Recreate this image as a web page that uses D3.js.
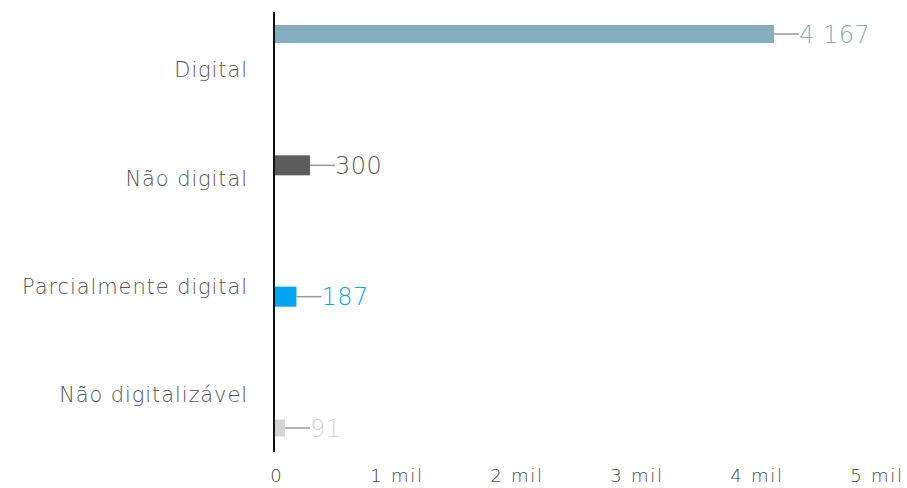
<!DOCTYPE html>
<html><head><meta charset="utf-8">
<script src="https://cdn.jsdelivr.net/npm/d3@7"></script>
<style>body{margin:0;background:#fff}svg{display:block}text{font-family:"DejaVu Sans",sans-serif}</style>
</head><body><svg id="c" width="907" height="488"></svg>
<script>
const categories = ["Digital","Não digital","Parcialmente digital","Não digitalizável"];
const values = [4167, 300, 187, 91];
const valueLabels = ["4 167","300","187","91"];
const barColors = ["#84adbe","#5d5d5d","#00a6ef","#d4d4d4"];
const labelColors = ["#84adbe","#5d5d5d","#00a6ef","#d4d4d4"];
const tickValues = [0,1000,2000,3000,4000,5000];
const tickLabels = ["0","1 mil","2 mil","3 mil","4 mil","5 mil"];

const svg = d3.select("#c");
const x = d3.scaleLinear().domain([0,5000]).range([274,874]);
const yBar = d3.scalePoint().domain(categories).range([34,428]);
const yLab = d3.scalePoint().domain(categories).range([70,395]);
const barH = [18,20,20,17];

svg.append("g").selectAll("rect").data(categories).join("rect")
  .attr("x", x(0)).attr("y",(d,i)=>yBar(d)-barH[i]/2)
  .attr("width",(d,i)=>x(values[i])-x(0)).attr("height",(d,i)=>barH[i])
  .attr("fill",(d,i)=>barColors[i]);

svg.append("g").selectAll("line").data(categories).join("line")
  .attr("x1",(d,i)=>x(values[i])).attr("x2",(d,i)=>x(values[i])+25)
  .attr("y1",d=>yBar(d)).attr("y2",d=>yBar(d))
  .attr("stroke","#9a9a9a").attr("stroke-width",1.5);

svg.append("g").selectAll("text").data(categories).join("text")
  .attr("x",(d,i)=>x(values[i])+25).attr("y",d=>yBar(d)).attr("dy","0.36em")
  .attr("fill",(d,i)=>labelColors[i]).attr("font-size",24).attr("font-weight",200)
  .attr("letter-spacing",0.5)
  .text((d,i)=>valueLabels[i]);

svg.append("g").selectAll("text").data(categories).join("text")
  .attr("x",248).attr("y",d=>yLab(d)).attr("dy","0.35em").attr("text-anchor","end")
  .attr("fill","#555").attr("font-size",21).attr("font-weight",200)
  .attr("letter-spacing",0.9)
  .text(d=>d);

svg.append("line").attr("x1",x(0)).attr("x2",x(0)).attr("y1",12).attr("y2",452)
  .attr("stroke","#111").attr("stroke-width",2);

svg.append("g").selectAll("text").data(tickValues).join("text")
  .attr("x",d=>x(d)+3).attr("y",482).attr("text-anchor","middle")
  .attr("fill","#444").attr("font-size",18).attr("font-weight",200)
  .attr("letter-spacing",1.8)
  .text((d,i)=>tickLabels[i]);
</script></body></html>
